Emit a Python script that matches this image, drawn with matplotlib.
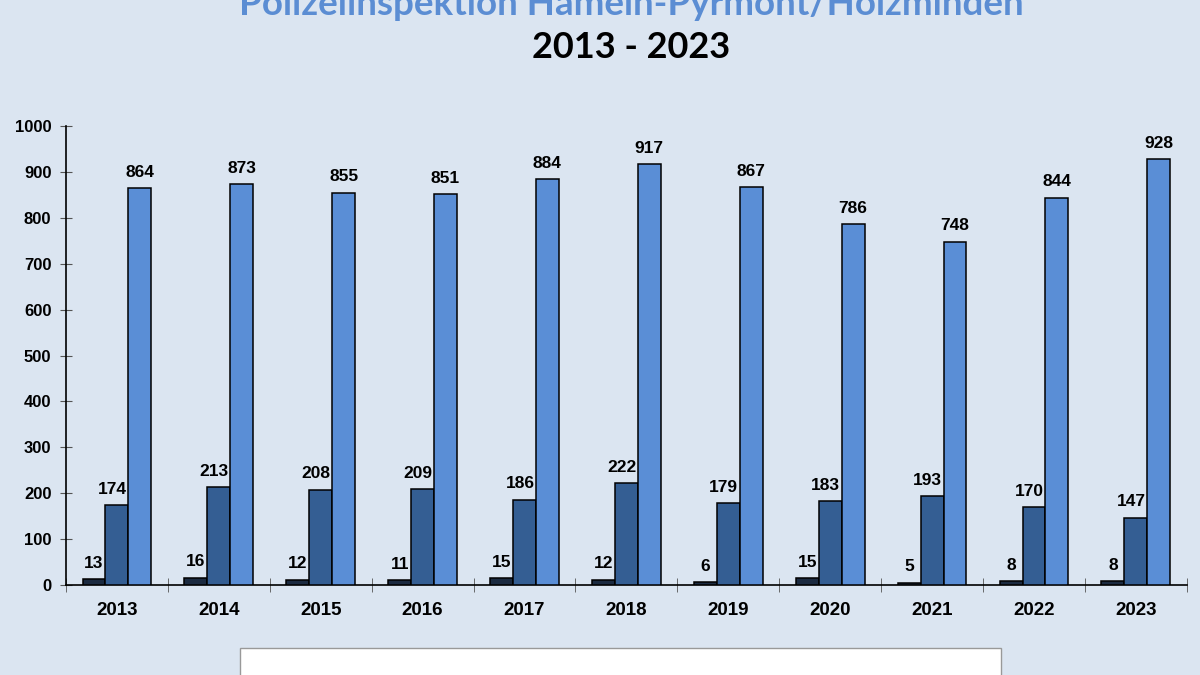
import numpy as np
import matplotlib.pyplot as plt
from matplotlib.patches import Patch

years = ["2013", "2014", "2015", "2016", "2017", "2018", "2019", "2020", "2021", "2022", "2023"]
killed = [13, 16, 12, 11, 15, 12, 6, 15, 5, 8, 8]
seriously_injured = [174, 213, 208, 209, 186, 222, 179, 183, 193, 170, 147]
slightly_injured = [864, 873, 855, 851, 884, 917, 867, 786, 748, 844, 928]

series_labels = ["Getötete", "Schwerverletzte", "Leichtverletzte"]
colors = ["#1B2A40", "#345E93", "#5A8ED6"]
bg = "#DBE5F1"

fig = plt.figure(figsize=(12, 6.75), dpi=100, facecolor=bg)
ax = fig.add_axes([0.055, 0.1333, 0.934, 0.68])
ax.set_facecolor(bg)

x = np.arange(len(years))
w = 0.225
label_shift = [0.0, -0.045, 0.0]  # mid labels sit a bit to the left
for k, vals in enumerate([killed, seriously_injured, slightly_injured]):
    bars = ax.bar(x + (k - 1) * w, vals, width=w, color=colors[k],
                  edgecolor="black", linewidth=1.1, zorder=3)
    for b, v in zip(bars, vals):
        ax.annotate(str(v), xy=(b.get_x() + b.get_width() / 2 + label_shift[k], v),
                    xytext=(0, 6), textcoords="offset points",
                    ha="center", va="bottom", fontsize=12.5, fontweight="bold",
                    family="Liberation Sans", color="black")

ax.set_xlim(-0.5, len(years) - 0.5)
ax.set_ylim(0, 1000)
ax.set_yticks(np.arange(0, 1001, 100))
ax.set_yticklabels([str(v) for v in range(0, 1001, 100)],
                   fontsize=12, fontweight="bold", family="Liberation Sans")
ax.set_xticks(x)
ax.set_xticklabels(years, fontsize=13.5, fontweight="bold", family="Liberation Sans")
ax.set_xticks(np.arange(-0.5, len(years), 1), minor=True)
ax.tick_params(axis="x", which="major", length=0, pad=12)
ax.tick_params(axis="x", which="minor", direction="inout", length=10, color="#555555")
ax.tick_params(axis="y", direction="inout", length=9, color="#555555", pad=6)

for s in ["top", "right"]:
    ax.spines[s].set_visible(False)
for s in ["left", "bottom"]:
    ax.spines[s].set_linewidth(1.2)
    ax.spines[s].set_color("black")

fig.text(0.526, 0.993, "Polizeiinspektion Hameln-Pyrmont/Holzminden",
         ha="center", va="center", fontsize=26.5, fontweight="bold",
         family="Lato", color="#5B8DD3")
fig.text(0.526, 0.93, "2013 - 2023", ha="center", va="center",
         fontsize=26, fontweight="bold", family="Lato", color="black")

# legend box sits at the bottom edge, its entries fall below the canvas
handles = [Patch(facecolor=c, edgecolor="black") for c in colors]
fig.legend(handles, series_labels, loc="upper left", ncol=3, mode="expand",
           bbox_to_anchor=(0.2, -0.5, 0.634, 0.54), borderaxespad=0,
           borderpad=2.6, facecolor="white", edgecolor="#999999", framealpha=1,
           fancybox=False, prop={"family": "Liberation Sans", "size": 11})

fig.savefig("out.png", dpi=100, facecolor=bg)
